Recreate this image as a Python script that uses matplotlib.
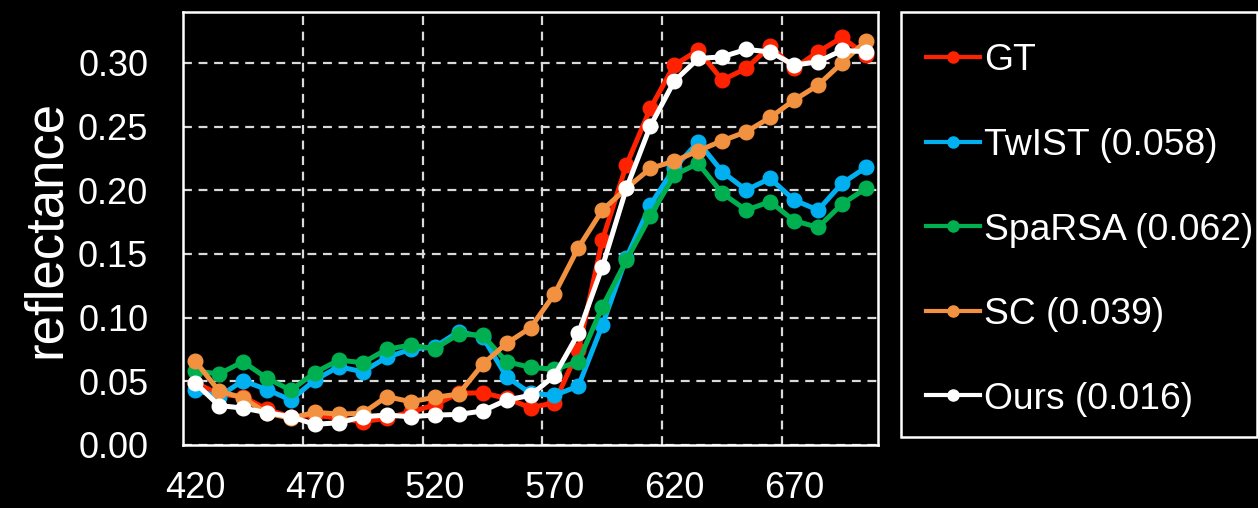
import matplotlib
matplotlib.use("Agg")
import matplotlib.pyplot as plt
from matplotlib.patches import Rectangle
from matplotlib.ticker import FixedLocator

plt.rcParams["font.family"] = ["Liberation Sans", "DejaVu Sans"]

# Spectral bands (nm)
wavelengths = list(range(420, 701, 10))

gt = [0.049, 0.040, 0.038, 0.028, 0.022, 0.0235, 0.021, 0.0183, 0.021, 0.026,
      0.0314, 0.0406, 0.041, 0.0366, 0.0293, 0.0332, 0.0746, 0.161, 0.2198, 0.2643,
      0.2983, 0.310, 0.2865, 0.2957, 0.3132, 0.2957, 0.3087, 0.320, 0.3061]
twist = [0.0432, 0.038, 0.0505, 0.0435, 0.0353, 0.051, 0.0615, 0.0575, 0.0688, 0.0751,
         0.077, 0.089, 0.085, 0.0536, 0.0406, 0.039, 0.0463, 0.0942, 0.147, 0.1884,
         0.2175, 0.238, 0.2145, 0.2002, 0.2093, 0.1923, 0.1845, 0.2054, 0.218]
sparsa = [0.0583, 0.0557, 0.0654, 0.0525, 0.043, 0.0568, 0.0667, 0.0646, 0.0751, 0.0785,
          0.0755, 0.0869, 0.0863, 0.0654, 0.061, 0.0594, 0.0654, 0.1086, 0.145, 0.1797,
          0.212, 0.2211, 0.1976, 0.1845, 0.191, 0.1761, 0.1709, 0.1892, 0.2015]
sc = [0.0662, 0.0424, 0.037, 0.025, 0.021, 0.0257, 0.0243, 0.0249, 0.038, 0.034,
      0.0374, 0.040, 0.0633, 0.0798, 0.092, 0.1185, 0.155, 0.1845, 0.2015, 0.2172,
      0.2229, 0.231, 0.2389, 0.2459, 0.2572, 0.2708, 0.2826, 0.3001, 0.3174]
ours = [0.0489, 0.031, 0.029, 0.0254, 0.0222, 0.0162, 0.0175, 0.0222, 0.0235, 0.0222,
        0.0235, 0.024, 0.0267, 0.0353, 0.039, 0.0544, 0.0877, 0.140, 0.2015, 0.2504,
        0.2857, 0.3035, 0.3048, 0.3106, 0.3087, 0.2983, 0.3009, 0.310, 0.3087]

labels = ["GT", "TwIST (0.058)", "SpaRSA (0.062)", "SC (0.039)", "Ours (0.016)"]
colors = ["#FF2200", "#00B0F0", "#00B050", "#F29240", "#FFFFFF"]
series = [gt, twist, sparsa, sc, ours]

yticks = [0, 0.05, 0.10, 0.15, 0.20, 0.25, 0.30]
xlabels = [420, 470, 520, 570, 620, 670]
xgrid = [465, 515, 565, 615, 665]

W, H = 1258, 508
fig = plt.figure(figsize=(W / 100, H / 100), dpi=100, facecolor="black")
ax = fig.add_axes([183 / W, 1 - 445 / H, (878 - 183) / W, (445 - 12) / H])
ax.set_facecolor("black")

for vals, lab, col in zip(series, labels, colors):
    ax.plot(wavelengths, vals, color=col, lw=3.6, marker="o", ms=10.5,
            mec=col, mfc=col, label=lab)

ax.set_xlim(415, 705)
ax.set_ylim(0, 0.34)

# category-style axis: labels on bands, grid on band boundaries
ax.xaxis.set_major_locator(FixedLocator(xlabels))
ax.xaxis.set_minor_locator(FixedLocator(xgrid))
ax.set_yticks(yticks)
ax.set_yticklabels([f"{v:.2f}" for v in yticks])

ax.grid(False)
ax.grid(which="minor", axis="x", color="#D9D9D9", ls=(0, (4, 3)), lw=1.6)
ax.grid(which="major", axis="y", color="#D9D9D9", ls=(0, (4, 3)), lw=1.6)
ax.set_axisbelow(True)

ax.tick_params(axis="both", which="both", length=0, colors="white", labelsize=26)
ax.tick_params(axis="y", pad=25)
ax.tick_params(axis="x", pad=19)

for s in ax.spines.values():
    s.set_color("white")
    s.set_linewidth(1.8)

ax.set_ylabel("reflectance", color="white", fontsize=38, va="center")
ax.yaxis.set_label_coords((46 - 183) / (878 - 183), 0.5)

# legend panel
fig.patches.append(Rectangle((901 / W, 1 - 437 / H), (1257 - 901) / W, (437 - 12) / H,
                             transform=fig.transFigure, fill=False,
                             edgecolor="white", lw=1.8))
leg = fig.legend(loc="center left", bbox_to_anchor=(926 / W, 1 - 230 / H),
                 frameon=False, fontsize=26.8, labelcolor="white",
                 handlelength=1.45, handletextpad=0.12, labelspacing=1.33,
                 borderpad=0, borderaxespad=0)
for ln in leg.legend_handles:
    ln.set_markersize(8)
    ln.set_linewidth(3)

fig.savefig("out.png", dpi=100, facecolor="black")
